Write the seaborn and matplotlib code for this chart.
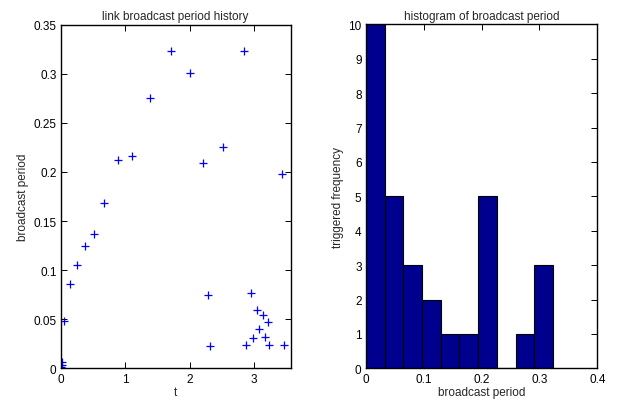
import matplotlib
matplotlib.use("Agg")
import matplotlib.pyplot as plt
import seaborn as sns
import numpy as np
import pandas as pd

t = [0.0, 0.01, 0.015, 0.02, 0.056, 0.144, 0.253, 0.377, 0.51, 0.676, 0.888, 1.105,
     1.38, 1.705, 2.005, 2.211, 2.29, 2.315, 2.527, 2.853, 2.88, 2.95, 2.99, 3.04,
     3.08, 3.14, 3.17, 3.22, 3.23, 3.43, 3.47]
period = [0.0, 0.001, 0.003, 0.0065, 0.0486, 0.086, 0.105, 0.125, 0.137, 0.168, 0.212, 0.216,
          0.275, 0.3235, 0.301, 0.209, 0.0744, 0.0225, 0.2255, 0.3235, 0.0238, 0.0765, 0.0306, 0.0595,
          0.0404, 0.0544, 0.0316, 0.0476, 0.0238, 0.198, 0.0238]

df = pd.DataFrame({"t": t, "period": period})

sns.set_style("ticks")
plt.rcParams['font.family'] = ['Liberation Sans', 'DejaVu Sans']
plt.rcParams['font.size'] = 8.5

fig = plt.figure(figsize=(6.21, 4.02), dpi=100)
ax1 = fig.add_axes([0.0977, 0.0811, 0.3704, 0.855])
ax2 = fig.add_axes([0.589, 0.0811, 0.373, 0.856])

sns.scatterplot(data=df, x="t", y="period", marker="+", color="blue", s=36,
                linewidth=0.9, ax=ax1)
ax1.set_xlim(0, 3.57)
ax1.set_ylim(0, 0.35)
ax1.set_xticks([0, 1, 2, 3])
ax1.set_xticklabels(["0", "1", "2", "3"])
ax1.set_yticks(np.arange(0, 0.351, 0.05))
ax1.set_yticklabels(["0", "0.05", "0.1", "0.15", "0.2", "0.25", "0.3", "0.35"])
ax1.set_xlabel("t", labelpad=1)
ax1.set_ylabel("broadcast period", labelpad=3)
ax1.set_title("link broadcast period history", fontsize=8.5, pad=4)

sns.histplot(x=period, bins=10, binrange=(min(period), max(period)),
             color=(0, 0, 0.5625), edgecolor="black", linewidth=0.8, alpha=1, ax=ax2)
ax2.set_xlim(0, 0.4)
ax2.set_ylim(0, 10)
ax2.set_xticks([0, 0.1, 0.2, 0.3, 0.4])
ax2.set_xticklabels(["0", "0.1", "0.2", "0.3", "0.4"])
ax2.set_yticks(range(0, 11))
ax2.set_xlabel("broadcast period", labelpad=1)
ax2.set_ylabel("triggered frequency", labelpad=3)
ax2.set_title("histogram of broadcast period", fontsize=8.5, pad=4)

for ax in (ax1, ax2):
    for sp in ax.spines.values():
        sp.set_visible(True)
        sp.set_color("black")
        sp.set_linewidth(1.0)
    ax.tick_params(direction="in", length=4, width=0.7, top=True, right=True,
                   labelsize=8.5, pad=3, colors="black")

fig.savefig("out.png", dpi=100)
